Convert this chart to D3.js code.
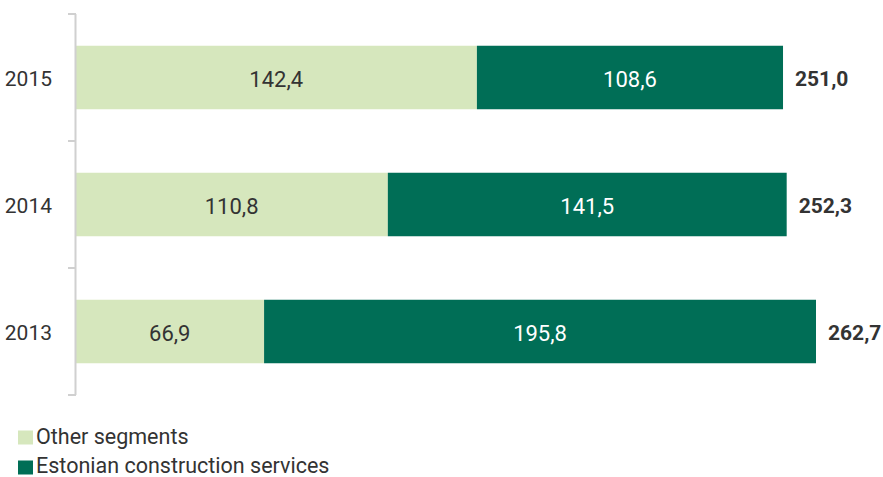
<!DOCTYPE html>
<html><head><meta charset="utf-8">
<script src="https://cdn.jsdelivr.net/npm/d3@7"></script>
<style>body{margin:0;background:#fff}svg{display:block;font-family:Roboto,"Open Sans",sans-serif}</style>
</head><body><svg id="c" width="883" height="477"></svg>
<script>
const years = ["2015","2014","2013"];
const otherSegments = [142.4, 110.8, 66.9];
const estonianConstruction = [108.6, 141.5, 195.8];
const totals = [251.0, 252.3, 262.7];
const seriesNames = ["Other segments","Estonian construction services"];
const colors = ["#d6e7bd","#006e56"];

const svg = d3.select("#c");
const fmt = v => v.toFixed(1).replace(".", ",");
const x = d3.scaleLinear().domain([0, 262.7]).range([75.5, 816]);
const y = d3.scaleBand().domain(years).range([14, 395]).paddingInner(0.5).paddingOuter(0.25);

const rows = years.map((yr,i)=>({year:yr, other:otherSegments[i], est:estonianConstruction[i], total:totals[i]}));
const stack = d3.stack().keys(["other","est"])(rows);

stack.forEach((s,si)=>{
  svg.append("g").selectAll("rect").data(s).join("rect")
    .attr("x", d=>x(d[0])).attr("width", d=>x(d[1])-x(d[0]))
    .attr("y", d=>y(d.data.year)).attr("height", y.bandwidth())
    .attr("fill", colors[si]);
  svg.append("g").selectAll("text").data(s).join("text")
    .attr("x", d=>(x(d[0])+x(d[1]))/2).attr("y", d=>y(d.data.year)+y.bandwidth()/2)
    .attr("dy","0.42em").attr("text-anchor","middle")
    .attr("font-size",22).attr("fill", si===0?"#333":"#fff")
    .text(d=>fmt(d[1]-d[0]));
});

svg.append("g").selectAll("text").data(rows).join("text")
  .attr("x", d=>x(d.total)+12).attr("y", d=>y(d.year)+y.bandwidth()/2)
  .attr("dy","0.42em").attr("font-size",21).attr("font-weight","bold").attr("fill","#333")
  .text(d=>fmt(d.total));

// axis
const ax = svg.append("g");
ax.append("line").attr("x1",75.5).attr("x2",75.5).attr("y1",14).attr("y2",395).attr("stroke","#d0d0d0").attr("stroke-width",2);
const step = y.step();
const edges = d3.range(years.length+1).map(i=>14+i*step);
ax.selectAll(".tk").data(edges).join("line").attr("x1",68).attr("x2",76).attr("y1",d=>d).attr("y2",d=>d).attr("stroke","#d0d0d0").attr("stroke-width",2);
ax.selectAll(".lb").data(years).join("text")
  .attr("x",52).attr("y",d=>y(d)+y.bandwidth()/2).attr("dy","0.4em").attr("text-anchor","end")
  .attr("font-size",21).attr("fill","#333").text(d=>d);

// legend
const lg = svg.append("g");
seriesNames.forEach((n,i)=>{
  lg.append("rect").attr("x",18).attr("y",430.5+i*30).attr("width",15).attr("height",14).attr("fill",colors[i]);
  lg.append("text").attr("x",36).attr("y",444+i*28.5).attr("font-size",21.5).attr("fill","#333").text(n);
});
</script></body></html>
